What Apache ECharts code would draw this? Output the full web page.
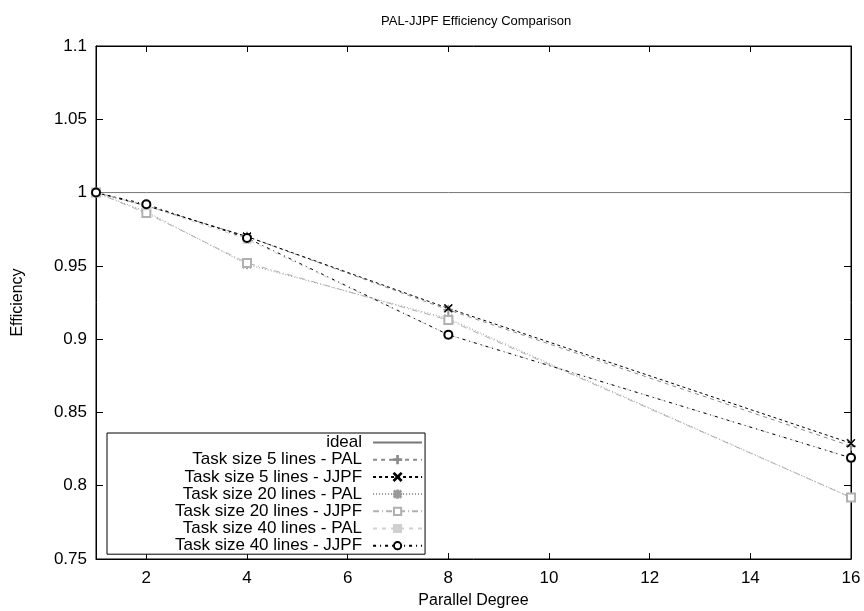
<!DOCTYPE html>
<html>
<head>
<meta charset="utf-8">
<script src="https://cdn.jsdelivr.net/npm/echarts@6/dist/echarts.min.js"></script>
<style>
  html, body { margin: 0; padding: 0; background: #fff; }
  #main { width: 864px; height: 611px; }
</style>
</head>
<body>
<div id="main"></div>
<script>
// 数据
var degrees = [1, 2, 4, 8, 16];
var ideal     = [1, 1, 1, 1, 1];
var pal5      = [1, 0.991, 0.970, 0.920, 0.827];
var jjpf5     = [1, 0.991, 0.970, 0.921, 0.829];
var pal20     = [1, 0.987, 0.951, 0.914, 0.792];
var jjpf20    = [1, 0.986, 0.952, 0.913, 0.792];
var pal40     = [1, 0.991, 0.968, 0.903, 0.819];
var jjpf40    = [1, 0.992, 0.969, 0.903, 0.819];
var xTicks = [2, 4, 6, 8, 10, 12, 14, 16];
var yTicks = [0.75, 0.8, 0.85, 0.9, 0.95, 1, 1.05, 1.1];

var FONT = 'Liberation Sans';

function pairs(ys) {
    return degrees.map(function (d, i) { return [d, ys[i]]; });
}

// 符号
var plusPath = 'path://M4.5,0H5.5V10H4.5ZM0,4.5H10V5.5H0Z';
var crossPath = 'path://M0.7,0L10,9.3L9.3,10L0,0.7ZM9.3,0L10,0.7L0.7,10L0,9.3Z';
var starPath = 'path://M4.5,0H5.5V10H4.5ZM0,4.5H10V5.5H0ZM1.2,0.5L9.5,8.8L8.8,9.5L0.5,1.2ZM8.8,0.5L9.5,1.2L1.2,9.5L0.5,8.8Z';

function mk(name, ys, color, dash, symbol, size) {
    return {
        name: name,
        type: 'line',
        data: pairs(ys),
        symbol: symbol,
        symbolSize: size,
        showSymbol: symbol !== 'none',
        lineStyle: { color: color, width: 1, type: dash },
        itemStyle: { color: color, borderColor: color, borderWidth: 1 },
        emphasis: { disabled: true }
    };
}

var myChart = echarts.init(document.getElementById('main'));

var series = [
    mk('ideal', ideal, '#777777', 'solid', 'none', 0),
    mk('Task size 5 lines - PAL', pal5, '#8c8c8c', [4, 4], plusPath, 9),
    mk('Task size 5 lines - JJPF', jjpf5, '#000000', [3, 3], crossPath, 8),
    mk('Task size 20 lines - PAL', pal20, '#999999', [1, 2], starPath, 9),
    mk('Task size 20 lines - JJPF', jjpf20, '#b0b0b0', [6, 3, 1, 3], 'emptyRect', 8),
    mk('Task size 40 lines - PAL', pal40, '#d0d0d0', [4, 5], 'rect', 8),
    mk('Task size 40 lines - JJPF', jjpf40, '#000000', [3, 4, 1, 4], 'emptyCircle', 8)
];

// ideal 不显示图例符号
var legendData = series.map(function (s) {
    if (s.name === 'ideal') {
        return { name: s.name, itemStyle: { opacity: 0 } };
    }
    return { name: s.name };
});

myChart.setOption({
    animation: false,
    backgroundColor: '#fff',
    textStyle: { fontFamily: FONT },
    title: {
        text: 'PAL-JJPF Efficiency Comparison',
        left: 376,
        top: 10,
        textStyle: { fontFamily: FONT, fontSize: 13, fontWeight: 'normal', color: '#000' }
    },
    legend: {
        orient: 'vertical',
        left: 107,
        top: 433,
        align: 'right',
        itemWidth: 49,
        itemHeight: 9,
        itemGap: 0.2,
        padding: [1, 2, 0, 68],
        borderColor: '#000',
        borderWidth: 1,
        backgroundColor: '#fff',
        selectedMode: false,
        textStyle: { fontFamily: FONT, fontSize: 17, color: '#000', padding: [0, 6, 0, 0] },
        data: legendData
    },
    grid: {
        left: 96, right: 13, top: 46, bottom: 52,
        outerBoundsMode: 'none',
        containLabel: false,
        show: true, borderColor: '#000', borderWidth: 1
    },
    xAxis: [{
        type: 'value',
        min: 1, max: 16,
        name: 'Parallel Degree',
        nameLocation: 'middle',
        nameGap: 34,
        nameTextStyle: { fontFamily: FONT, fontSize: 16, color: '#000' },
        axisLine: { lineStyle: { color: '#000' } },
        axisTick: { inside: true, length: 6, customValues: xTicks, lineStyle: { color: '#000' } },
        axisLabel: { customValues: xTicks, fontFamily: FONT, fontSize: 17, color: '#000', margin: 11 },
        splitLine: { show: false }
    }, {
        type: 'value',
        position: 'top',
        min: 1, max: 16,
        axisLine: { lineStyle: { color: '#000' } },
        axisTick: { inside: true, length: 6, customValues: xTicks, lineStyle: { color: '#000' } },
        axisLabel: { show: false },
        splitLine: { show: false }
    }],
    yAxis: [{
        type: 'value',
        min: 0.75, max: 1.1,
        name: 'Efficiency',
        nameLocation: 'middle',
        nameGap: 70,
        nameRotate: 90,
        nameTextStyle: { fontFamily: FONT, fontSize: 16, color: '#000' },
        axisLine: { show: true, lineStyle: { color: '#000' } },
        axisTick: { show: true, inside: true, length: 7, customValues: yTicks, lineStyle: { color: '#000' } },
        axisLabel: { customValues: yTicks, fontFamily: FONT, fontSize: 17, color: '#000', margin: 9 },
        splitLine: { show: false }
    }, {
        type: 'value',
        position: 'right',
        min: 0.75, max: 1.1,
        axisLine: { show: true, lineStyle: { color: '#000' } },
        axisTick: { show: true, inside: true, length: 7, customValues: yTicks, lineStyle: { color: '#000' } },
        axisLabel: { show: false },
        splitLine: { show: false }
    }],
    series: series
});
</script>
</body>
</html>
